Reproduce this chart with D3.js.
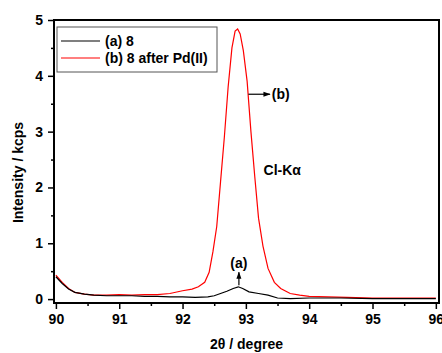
<!DOCTYPE html>
<html>
<head>
<meta charset="utf-8">
<script src="https://cdn.jsdelivr.net/npm/d3@7"></script>
<style>
  body { margin: 0; background: #fff; }
  svg { display: block; }
  text { font-family: Arial, "Liberation Sans", sans-serif; font-weight: bold; fill: #000; }
  .axis path, .axis line { stroke: #000; }
</style>
</head>
<body>
<div id="chart"></div>
<script>
// 2theta (degree) and intensity (kcps)
var twoThetaA = [90.00, 90.10, 90.20, 90.30, 90.45, 90.60, 90.80, 91.00, 91.20, 91.40, 91.60, 91.80,
    92.00, 92.20, 92.40, 92.50, 92.60, 92.70, 92.80, 92.88, 92.95, 93.05, 93.20, 93.35, 93.50,
    93.70, 94.00, 94.50, 95.00, 95.50, 96.00];
var intensityA = [0.40, 0.28, 0.18, 0.12, 0.09, 0.07, 0.06, 0.06, 0.06, 0.05, 0.05, 0.04,
    0.04, 0.03, 0.04, 0.06, 0.10, 0.14, 0.19, 0.22, 0.19, 0.13, 0.10, 0.07, 0.02,
    0.01, 0.02, 0.02, 0.01, 0.01, 0.01];

var twoThetaB = [90.00, 90.10, 90.20, 90.30, 90.45, 90.60, 90.80, 91.00, 91.20, 91.40, 91.60, 91.80,
    92.00, 92.15, 92.25, 92.35, 92.42, 92.48, 92.54, 92.60, 92.66, 92.72, 92.78, 92.83, 92.87,
    92.91, 92.96, 93.02, 93.08, 93.14, 93.20, 93.27, 93.35, 93.45, 93.55, 93.70, 93.85, 94.00,
    94.30, 94.60, 95.00, 95.50, 96.00];
var intensityB = [0.43, 0.30, 0.19, 0.12, 0.09, 0.07, 0.07, 0.08, 0.07, 0.08, 0.08, 0.10,
    0.15, 0.18, 0.22, 0.30, 0.48, 0.85, 1.30, 2.10, 2.90, 3.80, 4.50, 4.80, 4.84,
    4.75, 4.45, 3.90, 3.00, 2.20, 1.45, 0.95, 0.55, 0.30, 0.19, 0.10, 0.07, 0.05,
    0.04, 0.03, 0.02, 0.02, 0.02];

var seriesNames = ["(a) 8", "(b) 8 after Pd(II)"];
var seriesColors = ["#000000", "#ff0000"];

var xTicks = [90, 91, 92, 93, 94, 95, 96];
var xMinor = [90.5, 91.5, 92.5, 93.5, 94.5, 95.5];
var yTicks = [0, 1, 2, 3, 4, 5];
var yMinor = [0.5, 1.5, 2.5, 3.5, 4.5];

var W = 442, H = 353;
var margin = { top: 20, right: 3, bottom: 50, left: 54 };

var svg = d3.select("#chart").append("svg")
    .attr("width", W)
    .attr("height", H);

var x = d3.scaleLinear().domain([89.97, 96.05]).range([margin.left, W - margin.right]);
var y = d3.scaleLinear().domain([-0.07, 5]).range([H - margin.bottom, margin.top]);

var seriesA = twoThetaA.map(function (d, i) { return { x: d, y: intensityA[i] }; });
var seriesB = twoThetaB.map(function (d, i) { return { x: d, y: intensityB[i] }; });

var line = d3.line()
    .x(function (d) { return x(d.x); })
    .y(function (d) { return y(d.y); });

// curves (red first so black sits on top at the baseline)
svg.append("path").datum(seriesB)
    .attr("fill", "none").attr("stroke", seriesColors[1]).attr("stroke-width", 1.2)
    .attr("d", line);
svg.append("path").datum(seriesA)
    .attr("fill", "none").attr("stroke", seriesColors[0]).attr("stroke-width", 1.2)
    .attr("d", line);

// minor ticks
svg.append("g").attr("class", "axis")
    .attr("transform", "translate(0," + (H - margin.bottom) + ")")
    .call(d3.axisBottom(x).tickValues(xMinor).tickSize(3).tickFormat(""))
    .call(function (g) { g.select(".domain").remove(); g.selectAll("line").attr("stroke-width", 1.5); });
svg.append("g").attr("class", "axis")
    .attr("transform", "translate(" + margin.left + ",0)")
    .call(d3.axisLeft(y).tickValues(yMinor).tickSize(3).tickFormat(""))
    .call(function (g) { g.select(".domain").remove(); g.selectAll("line").attr("stroke-width", 1.5); });

// major ticks + labels
var xAxis = svg.append("g").attr("class", "axis")
    .attr("transform", "translate(0," + (H - margin.bottom) + ")")
    .call(d3.axisBottom(x).tickValues(xTicks).tickSize(6).tickSizeOuter(0).tickPadding(5).tickFormat(d3.format("d")));
xAxis.select(".domain").remove();
xAxis.selectAll("line").attr("stroke-width", 1.5);
xAxis.selectAll("text").style("font-size", "14px").style("font-family", "Arial, 'Liberation Sans', sans-serif").style("font-weight", "bold");

var yAxis = svg.append("g").attr("class", "axis")
    .attr("transform", "translate(" + margin.left + ",0)")
    .call(d3.axisLeft(y).tickValues(yTicks).tickSize(6).tickSizeOuter(0).tickPadding(5).tickFormat(d3.format("d")));
yAxis.select(".domain").remove();
yAxis.selectAll("line").attr("stroke-width", 1.5);
yAxis.selectAll("text").style("font-size", "14px").style("font-family", "Arial, 'Liberation Sans', sans-serif").style("font-weight", "bold");

// frame
svg.append("rect")
    .attr("x", margin.left).attr("y", margin.top)
    .attr("width", W - margin.right - margin.left)
    .attr("height", H - margin.bottom - margin.top)
    .attr("fill", "none").attr("stroke", "#000").attr("stroke-width", 2);

// axis titles
svg.append("text")
    .attr("transform", "translate(23," + ((margin.top + H - margin.bottom) / 2 + 11) + ") rotate(-90)")
    .attr("text-anchor", "middle")
    .style("font-size", "14px")
    .text("Intensity / kcps");

svg.append("text")
    .attr("x", (margin.left + W - margin.right) / 2)
    .attr("y", 349)
    .attr("text-anchor", "middle")
    .style("font-size", "14px")
    .text("2θ / degree");

// legend
var legend = svg.append("g").attr("transform", "translate(57,27)");
legend.append("rect")
    .attr("width", 160).attr("height", 45)
    .attr("fill", "#fff").attr("stroke", "#555").attr("stroke-width", 1);
seriesNames.forEach(function (name, i) {
    var ly = 14 + i * 17;
    legend.append("line")
        .attr("x1", 4).attr("x2", 43).attr("y1", ly).attr("y2", ly)
        .attr("stroke", seriesColors[i]).attr("stroke-width", 1.2);
    legend.append("text")
        .attr("x", 48).attr("y", ly + 5)
        .style("font-size", "14px")
        .text(name);
});

// arrow marker
svg.append("defs").append("marker")
    .attr("id", "arrow")
    .attr("viewBox", "0 0 10 10")
    .attr("refX", 9).attr("refY", 5)
    .attr("markerWidth", 6).attr("markerHeight", 6)
    .attr("orient", "auto")
    .append("path").attr("d", "M0,1.5 L10,5 L0,8.5 Z").attr("fill", "#000");

// (b) annotation
svg.append("line")
    .attr("x1", x(93.04)).attr("x2", x(93.38))
    .attr("y1", y(3.67)).attr("y2", y(3.67))
    .attr("stroke", "#000").attr("stroke-width", 1.2)
    .attr("marker-end", "url(#arrow)");
svg.append("text")
    .attr("x", x(93.41)).attr("y", y(3.67) + 5)
    .style("font-size", "14px")
    .text("(b)");

svg.append("text")
    .attr("x", x(93.28)).attr("y", y(2.32) + 5)
    .style("font-size", "14px")
    .text("Cl-Kα");

// (a) annotation
svg.append("line")
    .attr("x1", x(92.89)).attr("x2", x(92.89))
    .attr("y1", y(0.25)).attr("y2", y(0.48))
    .attr("stroke", "#000").attr("stroke-width", 1.2)
    .attr("marker-end", "url(#arrow)");
svg.append("text")
    .attr("x", x(92.89)).attr("y", y(0.65) + 5)
    .attr("text-anchor", "middle")
    .style("font-size", "14px")
    .text("(a)");
</script>
</body>
</html>
